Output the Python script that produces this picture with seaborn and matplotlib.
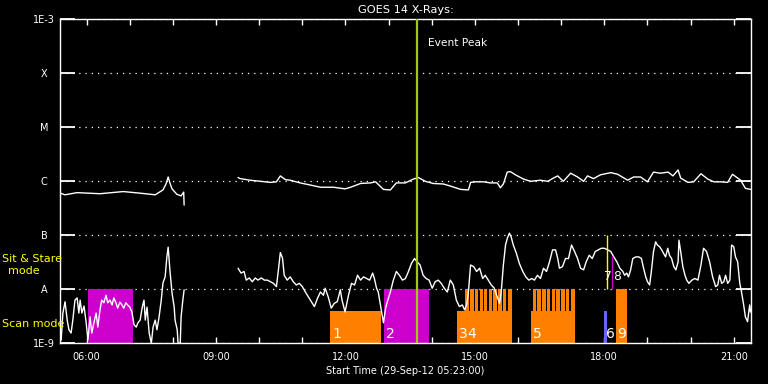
import matplotlib
matplotlib.use("Agg")
import numpy as np
import pandas as pd
import seaborn as sns
import matplotlib.pyplot as plt
from matplotlib.ticker import FixedLocator, NullLocator, MultipleLocator

# ---------------- data (time in decimal hours, flux as log10 W/m^2) ----------------
long_a_time = [5.39, 5.50, 5.78, 6.31, 6.85, 7.24, 7.59, 7.77, 7.84, 7.89, 7.93, 7.98, 8.09, 8.19, 8.25, 8.26]
long_a_logflux = [-6.22, -6.25, -6.21, -6.23, -6.19, -6.22, -6.25, -6.16, -6.05, -5.92, -6.03, -6.14, -6.24, -6.27, -6.20, -6.44]

long_b_time = [9.51, 9.56, 9.79, 10.03, 10.26, 10.40, 10.49, 10.61, 10.72, 10.95, 11.19, 11.42, 11.72,
               11.99, 12.12, 12.35, 12.58, 12.70, 12.88, 13.04, 13.18, 13.39, 13.57, 13.69, 13.85, 14.03,
               14.27, 14.44, 14.67, 14.85, 14.90, 15.01, 15.20, 15.36, 15.52, 15.59, 15.66, 15.75, 15.82,
               15.94, 16.13, 16.29, 16.52, 16.69, 16.82, 16.92, 17.05, 17.22, 17.38, 17.52, 17.61, 17.75,
               17.91, 18.15, 18.31, 18.54, 18.68, 18.84, 19.00, 19.14, 19.30, 19.48, 19.59, 19.71, 19.77,
               19.94, 20.07, 20.24, 20.40, 20.54, 20.70, 20.86, 20.97, 21.16, 21.27, 21.39]
long_b_logflux = [-5.93, -5.95, -5.98, -6.00, -6.02, -6.01, -5.90, -5.97, -5.98, -6.03, -6.07, -6.11, -6.11,
                  -6.14, -6.11, -6.04, -6.03, -6.01, -6.15, -6.16, -6.03, -6.03, -5.96, -5.93, -6.00, -6.04,
                  -6.05, -6.09, -6.15, -6.16, -6.02, -6.01, -6.01, -6.03, -6.03, -6.12, -6.05, -5.83, -5.82,
                  -5.88, -5.96, -6.00, -5.98, -6.00, -5.94, -5.90, -6.00, -5.85, -5.92, -6.00, -5.90, -5.95,
                  -5.88, -5.84, -5.87, -5.98, -5.92, -5.92, -6.01, -5.83, -5.85, -5.83, -5.90, -5.79, -5.94,
                  -6.02, -6.01, -5.86, -5.96, -6.01, -6.01, -6.02, -5.87, -5.98, -6.13, -6.15]

short_a_time = [5.39, 5.41, 5.45, 5.50, 5.55, 5.59, 5.64, 5.68, 5.73, 5.78, 5.82, 5.85, 5.89, 5.94, 5.99,
                6.03, 6.08, 6.12, 6.17, 6.22, 6.26, 6.31, 6.35, 6.40, 6.45, 6.49, 6.54, 6.59, 6.63, 6.68,
                6.72, 6.77, 6.82, 6.86, 6.91, 6.95, 7.00, 7.05, 7.10, 7.15, 7.19, 7.24, 7.29, 7.33, 7.36,
                7.40, 7.45, 7.50, 7.54, 7.59, 7.63, 7.68, 7.73, 7.77, 7.82, 7.86, 7.89, 7.93, 7.98, 8.03,
                8.05, 8.10, 8.12, 8.17, 8.19, 8.23, 8.26]
short_a_logflux = [-8.81, -8.94, -8.44, -8.23, -8.57, -8.75, -8.81, -8.57, -8.20, -8.16, -8.44, -8.20, -8.44,
                   -8.31, -8.62, -8.94, -8.51, -8.81, -8.62, -8.44, -8.70, -8.38, -8.20, -8.25, -8.11, -8.25,
                   -8.20, -8.29, -8.16, -8.25, -8.35, -8.24, -8.29, -8.35, -8.25, -8.29, -8.33, -8.42, -8.66,
                   -8.70, -8.62, -8.57, -8.33, -8.20, -8.57, -8.33, -8.81, -9.00, -8.70, -8.57, -8.75, -8.51,
                   -8.20, -7.88, -7.77, -7.40, -7.22, -7.64, -8.07, -8.33, -8.57, -8.75, -9.00, -9.00, -8.51,
                   -8.20, -8.01]

short_b_time = [9.51, 9.58, 9.65, 9.70, 9.77, 9.84, 9.91, 9.97, 10.05, 10.12, 10.19, 10.26, 10.33, 10.40,
                10.45, 10.49, 10.54, 10.58, 10.65, 10.72, 10.79, 10.86, 10.93, 11.00, 11.07, 11.14, 11.21,
                11.28, 11.35, 11.42, 11.49, 11.53, 11.60, 11.67, 11.74, 11.81, 11.88, 11.92, 11.99, 12.07,
                12.14, 12.21, 12.28, 12.35, 12.42, 12.49, 12.56, 12.63, 12.67, 12.72, 12.76, 12.81, 12.86,
                12.88, 12.93, 12.97, 13.04, 13.11, 13.18, 13.25, 13.32, 13.39, 13.46, 13.53, 13.60, 13.66,
                13.73, 13.80, 13.87, 13.94, 14.01, 14.08, 14.15, 14.22, 14.29, 14.36, 14.43, 14.50, 14.57,
                14.64, 14.71, 14.76, 14.81, 14.85, 14.90, 14.97, 15.04, 15.11, 15.18, 15.24, 15.31, 15.38,
                15.45, 15.52, 15.57, 15.61, 15.66, 15.71, 15.75, 15.80, 15.84, 15.89, 15.96, 16.03, 16.11,
                16.18, 16.25, 16.32, 16.38, 16.45, 16.52, 16.59, 16.66, 16.73, 16.80, 16.87, 16.92, 16.96,
                17.03, 17.10, 17.17, 17.24, 17.31, 17.38, 17.45, 17.52, 17.58, 17.65, 17.72, 17.79, 17.86,
                17.93, 18.00, 18.08, 18.15, 18.22, 18.29, 18.36, 18.43, 18.47, 18.52, 18.56, 18.61, 18.66,
                18.73, 18.80, 18.86, 18.91, 18.96, 19.00, 19.05, 19.09, 19.14, 19.19, 19.23, 19.28, 19.33,
                19.37, 19.42, 19.47, 19.51, 19.56, 19.61, 19.66, 19.71, 19.73, 19.77, 19.82, 19.87, 19.91,
                19.96, 20.03, 20.10, 20.17, 20.24, 20.30, 20.37, 20.44, 20.51, 20.58, 20.63, 20.67, 20.72,
                20.77, 20.81, 20.86, 20.91, 20.95, 21.00, 21.04, 21.09, 21.14, 21.18, 21.23, 21.27, 21.32,
                21.37, 21.39]
short_b_logflux = [-7.61, -7.70, -7.67, -7.83, -7.79, -7.86, -7.79, -7.83, -7.79, -7.83, -7.83, -7.86, -7.89,
                   -7.95, -7.61, -7.32, -7.42, -7.74, -7.83, -7.77, -7.86, -7.92, -7.89, -7.95, -8.05, -8.14,
                   -8.23, -8.32, -8.17, -8.05, -8.11, -7.98, -8.14, -8.35, -8.26, -8.23, -8.01, -8.20, -8.42,
                   -8.11, -7.89, -7.92, -7.74, -7.83, -7.77, -7.80, -7.83, -7.70, -7.80, -7.98, -8.05, -8.29,
                   -8.53, -8.62, -8.35, -8.23, -8.05, -7.83, -7.67, -7.74, -7.83, -7.80, -7.67, -7.52, -7.43,
                   -7.49, -7.55, -7.74, -7.80, -7.83, -7.98, -7.86, -7.83, -7.89, -7.98, -8.05, -7.83, -7.92,
                   -8.20, -8.32, -8.29, -8.38, -8.29, -8.05, -7.55, -7.58, -7.67, -7.61, -7.80, -7.74, -7.83,
                   -7.92, -7.98, -8.14, -8.26, -8.05, -7.55, -7.18, -7.06, -6.96, -7.03, -7.18, -7.33, -7.52,
                   -7.67, -7.77, -7.83, -7.80, -7.83, -7.74, -7.80, -7.61, -7.67, -7.49, -7.27, -7.27, -7.43,
                   -7.61, -7.58, -7.43, -7.43, -7.18, -7.30, -7.43, -7.61, -7.64, -7.49, -7.37, -7.43, -7.30,
                   -7.27, -7.24, -7.24, -7.27, -7.30, -7.40, -7.49, -7.61, -7.67, -7.74, -7.70, -7.77, -7.64,
                   -7.43, -7.40, -7.40, -7.43, -7.61, -7.77, -7.86, -7.92, -7.67, -7.30, -7.12, -7.18, -7.21,
                   -7.27, -7.33, -7.40, -7.24, -7.37, -7.43, -7.58, -7.64, -7.49, -7.09, -7.30, -7.58, -7.74,
                   -7.83, -7.89, -7.83, -7.80, -7.83, -7.55, -7.24, -7.30, -7.49, -7.77, -7.95, -7.92, -7.74,
                   -7.89, -7.86, -7.74, -7.89, -7.83, -7.18, -7.21, -7.40, -7.49, -7.89, -8.05, -8.29, -8.51,
                   -8.60, -8.29, -8.42]

# observations
obs_labels = ["1", "2", "3", "4", "5", "6", "9"]
obs_start = [11.65, 12.90, 14.59, 14.78, 16.31, 18.00, 18.26]
scan_low_start = [11.65, 14.59, 16.31]
scan_low_end = [12.83, 15.86, 17.33]
raster_a_start = [14.78, 14.89, 15.00, 15.11, 15.21, 15.32, 15.43, 15.54, 15.65, 15.76]
raster_a_end = [14.86, 14.97, 15.08, 15.19, 15.29, 15.40, 15.51, 15.62, 15.73, 15.86]
raster_b_start = [16.34, 16.45, 16.56, 16.67, 16.78, 16.89, 17.00, 17.11, 17.22]
raster_b_end = [16.42, 16.53, 16.64, 16.75, 16.86, 16.97, 17.08, 17.19, 17.33]
full_scan_start = [18.26]
full_scan_end = [18.52]
magenta_start = [6.03, 12.90]
magenta_end = [7.08, 13.94]
blue_start = [18.00]
blue_end = [18.07]
sit_stare_labels = ["7", "8"]
sit_stare_time = [18.06, 18.17]
sit_stare_top = [-7.0, -7.38]
event_peak_time = 13.66

x_major = [6, 9, 12, 15, 18, 21]
x_major_labels = ["06:00", "09:00", "12:00", "15:00", "18:00", "21:00"]
y_ticks = [-9, -8, -7, -6, -5, -4, -3]
y_tick_labels = ["1E-9", "A", "B", "C", "M", "X", "1E-3"]

# ---------------- style ----------------
sns.set_style("dark", rc={"axes.facecolor": "black", "figure.facecolor": "black"})
plt.rcParams["font.family"] = ["DejaVu Sans"]

fig = plt.figure(figsize=(7.68, 3.84), dpi=100, facecolor="black")
ax = fig.add_axes([60 / 768, 1 - 343.3 / 384, 691 / 768, 324 / 384])
ax.set_facecolor("black")
ax.set_yscale("log")

ORANGE = "#ff8000"
MAGENTA = "#cc00cc"
BLUE = "#6464ff"
LO, SCAN_TOP, A_LEVEL = 1e-9, 10 ** -8.4, 1e-8

def spans(starts, ends, low, high, color):
    s = np.array(starts); e = np.array(ends)
    ax.bar(s, high - low, width=e - s, bottom=low, align="edge", color=color,
           linewidth=0, zorder=1)

spans(magenta_start, magenta_end, LO, A_LEVEL, MAGENTA)
spans(scan_low_start, scan_low_end, LO, SCAN_TOP, ORANGE)
spans(raster_a_start, raster_a_end, SCAN_TOP, A_LEVEL, ORANGE)
spans(raster_b_start, raster_b_end, SCAN_TOP, A_LEVEL, ORANGE)
spans(full_scan_start, full_scan_end, LO, A_LEVEL, ORANGE)
spans(blue_start, blue_end, LO, SCAN_TOP, BLUE)

# curves
frames = []
for name, t, lf in [("long_a", long_a_time, long_a_logflux), ("long_b", long_b_time, long_b_logflux),
                    ("short_a", short_a_time, short_a_logflux), ("short_b", short_b_time, short_b_logflux)]:
    frames.append(pd.DataFrame({"time": t, "flux": 10 ** np.array(lf), "segment": name}))
df = pd.concat(frames, ignore_index=True)
sns.lineplot(data=df, x="time", y="flux", units="segment", estimator=None, sort=False,
             color="white", linewidth=1.0, ax=ax, legend=False, zorder=2)

# sit & stare markers
ax.vlines(sit_stare_time[0], A_LEVEL, 10 ** sit_stare_top[0], color="#ffff00", lw=1.0, zorder=3)
ax.vlines(sit_stare_time[1], A_LEVEL, 10 ** sit_stare_top[1], color=MAGENTA, lw=1.0, zorder=3)
ss_offsets = [-1.8, 0.9]
for lab, t, dx in zip(sit_stare_labels, sit_stare_time, ss_offsets):
    ax.annotate(lab, xy=(t, 10 ** -7.88), xytext=(dx, 0), textcoords="offset points",
                color="white", fontsize=8.8, ha="left", va="bottom", zorder=4)
for lab, t in zip(obs_labels, obs_start):
    ax.annotate(lab, xy=(t, LO), xytext=(1.2, 2), textcoords="offset points",
                color="white", fontsize=10, ha="left", va="bottom", zorder=4)

# event peak
ax.axvline(event_peak_time, color="#a0c814", lw=1.6, zorder=3)
ax.annotate("Event Peak", xy=(event_peak_time, 1e-3), xytext=(7.5, -17.3), textcoords="offset points",
            color="white", fontsize=7.7, ha="left", va="center")

# axes
ax.set_xlim(5.383, 21.40)
ax.set_ylim(1e-9, 1e-3)
ax.xaxis.set_major_locator(FixedLocator(x_major))
ax.set_xticklabels(x_major_labels)
ax.xaxis.set_minor_locator(MultipleLocator(1))
ax.yaxis.set_major_locator(FixedLocator([10.0 ** v for v in y_ticks]))
ax.yaxis.set_minor_locator(NullLocator())
ax.set_yticklabels(y_tick_labels)
for lbl in ax.get_yticklabels():
    lbl.set_horizontalalignment("center")

ax.tick_params(axis="x", which="both", direction="in", top=True, bottom=True, length=4.3,
               width=1.0, color="white", labelcolor="white", labelsize=7, pad=6)
ax.tick_params(axis="y", which="major", direction="in", left=True, right=True, length=10.5,
               width=1.3, color="white", labelcolor="white", labelsize=7, pad=11.5)
ax.grid(False)
ax.grid(axis="y", which="major", color="white", linestyle=(0, (1, 4)), linewidth=0.9)
for sp in ax.spines.values():
    sp.set_visible(True)
    sp.set_color("white")
    sp.set_linewidth(1.0)

ax.set_title("GOES 14 X-Rays:", color="white", fontsize=8.2, pad=4.3)
ax.set_xlabel("Start Time (29-Sep-12 05:23:00)", color="white", fontsize=7, labelpad=3.5)
ax.set_ylabel("")

fig.text(2 / 768, 1 - 259 / 384, "Sit & Stare", color="#ffff00", fontsize=8, ha="left", va="center")
fig.text(24 / 768, 1 - 271 / 384, "mode", color="#ffff00", fontsize=8, ha="center", va="center")
fig.text(2 / 768, 1 - 324 / 384, "Scan mode", color="#ffff00", fontsize=8, ha="left", va="center")

fig.savefig("out.png", dpi=100, facecolor="black")
